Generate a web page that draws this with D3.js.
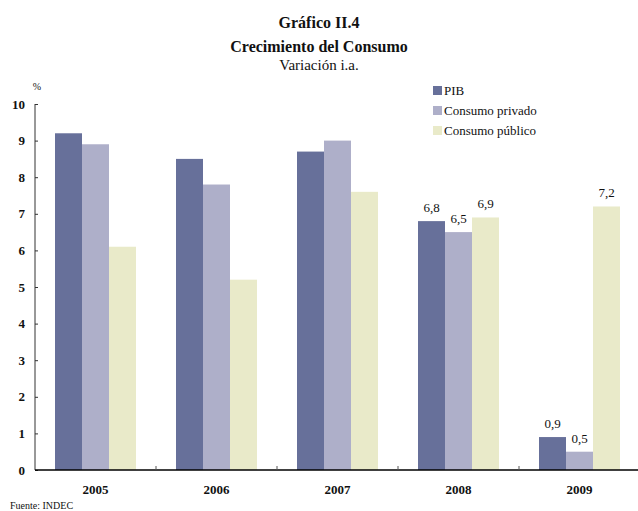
<!DOCTYPE html>
<html lang="es">
<head>
<meta charset="UTF-8">
<title>Gráfico II.4</title>
<script src="https://cdn.jsdelivr.net/npm/d3@7"></script>
<style>
  body { margin: 0; background: #fff; }
  text { font-family: "Liberation Serif", "DejaVu Serif", serif; fill: #111; }
</style>
</head>
<body>
<div id="chart"></div>
<script>
// datos
var years = ["2005", "2006", "2007", "2008", "2009"];
var seriesNames = ["PIB", "Consumo privado", "Consumo público"];
var pib = [9.2, 8.5, 8.7, 6.8, 0.9];
var privado = [8.9, 7.8, 9.0, 6.5, 0.5];
var publico = [6.1, 5.2, 7.6, 6.9, 7.2];
var yTicks = [0, 1, 2, 3, 4, 5, 6, 7, 8, 9, 10];
var labelledYears = ["2008", "2009"];

var colors = ["#67709a", "#aeafc9", "#e9eac9"];
var values = [pib, privado, publico];

var W = 638, H = 511;
var svg = d3.select("#chart").append("svg")
  .attr("width", W).attr("height", H);

var x = d3.scaleBand().domain(years).range([35, 640]);
var xs = d3.scaleBand().domain(d3.range(3)).range([20, x.bandwidth() -20]);
var y = d3.scaleLinear().domain([0, 10]).range([470, 104]);

// títulos
svg.append("text").attr("x", 319).attr("y", 28).attr("text-anchor", "middle")
  .style("font-size", "16px").style("font-weight", "bold").text("Gráfico II.4");
svg.append("text").attr("x", 319).attr("y", 52).attr("text-anchor", "middle")
  .style("font-size", "16px").style("font-weight", "bold").text("Crecimiento del Consumo");
svg.append("text").attr("x", 319).attr("y", 70).attr("text-anchor", "middle")
  .style("font-size", "15px").text("Variación i.a.");
svg.append("text").attr("x", 37).attr("y", 90).attr("text-anchor", "middle")
  .style("font-size", "10px").text("%");

// barras
var groups = svg.selectAll("g.year").data(years).enter().append("g")
  .attr("class", "year")
  .attr("transform", function(d) { return "translate(" + x(d) + ",0)"; });

groups.selectAll("rect").data(function(d, i) {
    return values.map(function(v, s) { return { year: d, s: s, v: v[i] }; });
  })
  .enter().append("rect")
  .attr("x", function(d) { return xs(d.s); })
  .attr("y", function(d) { return y(d.v); })
  .attr("width", xs.bandwidth())
  .attr("height", function(d) { return y(0) - y(d.v); })
  .attr("fill", function(d) { return colors[d.s]; });

groups.selectAll("text.val").data(function(d, i) {
    if (labelledYears.indexOf(d) < 0) return [];
    return values.map(function(v, s) { return { s: s, v: v[i] }; });
  })
  .enter().append("text")
  .attr("class", "val")
  .attr("x", function(d) { return xs(d.s) + xs.bandwidth() / 2; })
  .attr("y", function(d) { return y(d.v) - 9; })
  .attr("text-anchor", "middle")
  .style("font-size", "13px")
  .text(function(d) { return d3.format(".1f")(d.v).replace(".", ","); });

// eje y (marcas hacia adentro)
var yAxis = d3.axisLeft(y).tickValues(yTicks).tickSize(-3).tickPadding(10);
var gy = svg.append("g").attr("transform", "translate(35,0)").call(yAxis);
gy.select(".domain").attr("stroke", "#333").attr("d", "M0,104V470");
gy.selectAll("text").style("font-family", "Liberation Serif, serif")
  .style("font-size", "13px").style("font-weight", "bold").attr("fill", "#111");
gy.selectAll("line").attr("stroke", "#333");

// eje x
var xAxis = d3.axisBottom(x).tickSize(0).tickPadding(15);
var gx = svg.append("g").attr("transform", "translate(0,470)").call(xAxis);
gx.select(".domain").attr("stroke", "#000").attr("stroke-width", 1.5).attr("d", "M35,0H640");
gx.selectAll("text").style("font-family", "Liberation Serif, serif")
  .style("font-size", "13px").style("font-weight", "bold").attr("fill", "#111");
gx.selectAll(".sep").data(years.slice(1)).enter().append("line")
  .attr("class", "sep")
  .attr("x1", function(d) { return x(d); }).attr("x2", function(d) { return x(d); })
  .attr("y1", 0).attr("y2", -4).attr("stroke", "#555");

// leyenda
var legend = svg.selectAll("g.leg").data(seriesNames).enter().append("g")
  .attr("class", "leg")
  .attr("transform", function(d, i) { return "translate(433," + (86 + i * 20) + ")"; });
legend.append("rect").attr("width", 9).attr("height", 9)
  .attr("fill", function(d, i) { return colors[i]; });
legend.append("text").attr("x", 11).attr("y", 9)
  .style("font-size", "13px").text(function(d) { return d; });

svg.append("text").attr("x", 10).attr("y", 509)
  .style("font-size", "10px").text("Fuente: INDEC");
</script>
</body>
</html>
